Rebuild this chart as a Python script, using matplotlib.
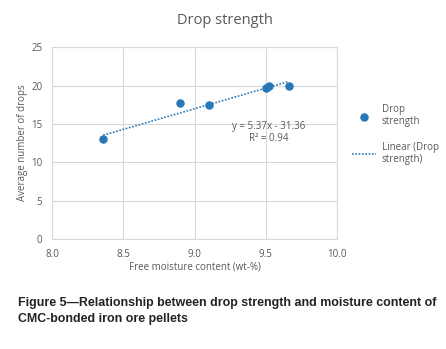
import numpy as np
import matplotlib
matplotlib.use("Agg")
import matplotlib.pyplot as plt

# data
moisture = [8.36, 8.90, 9.10, 9.50, 9.52, 9.66]
drops = [13.0, 17.7, 17.5, 19.7, 19.95, 20.0]
slope, intercept = 5.37, -31.36
r2 = 0.94
x_ticks = [8.0, 8.5, 9.0, 9.5, 10.0]
y_ticks = [0, 5, 10, 15, 20, 25]

blue = "#2878b8"
grey = "#595959"
grid_c = "#d9d9d9"
chart_font = ["Open Sans", "DejaVu Sans"]

fig = plt.figure(figsize=(4.46, 3.49), dpi=100)
ax = fig.add_axes([0.1166, 0.315, 0.639, 0.55])

ax.scatter(moisture, drops, s=26, color=blue, zorder=3, label="Drop\nstrength")
fit_x = np.array([min(moisture), max(moisture)])
ax.plot(fit_x, slope * fit_x + intercept, color=blue, ls=(0, (1, 1)), lw=1.2,
        zorder=2, label="Linear (Drop\nstrength)")

ax.set_xlim(8.0, 10.0)
ax.set_ylim(0, 25)
ax.set_xticks(x_ticks)
ax.set_xticklabels([f"{v:.1f}" for v in x_ticks])
ax.set_yticks(y_ticks)
ax.grid(True, color=grid_c, lw=0.8)
ax.set_axisbelow(True)
for s in ax.spines.values():
    s.set_color(grid_c)
    s.set_linewidth(0.8)
ax.tick_params(length=0, labelsize=7, colors=grey)
ax.tick_params(axis="x", pad=7.5)
ax.tick_params(axis="y", pad=7)
for lab in ax.get_xticklabels() + ax.get_yticklabels():
    lab.set_family(chart_font)

ax.set_xlabel("Free moisture content (wt-%)", fontsize=7, color=grey,
              family=chart_font, labelpad=1)
ax.set_ylabel("Average number of drops", fontsize=7, color=grey,
              family=chart_font, labelpad=2)
fig.text(0.505, 0.94, "Drop strength", ha="center", va="center",
         fontsize=10.5, color=grey, family=chart_font)

ax.text(9.52, 13.87, f"y = {slope}x - {abs(intercept)}\nR\u00b2 = {r2}",
        ha="center", va="center", fontsize=7, color=grey, family=chart_font,
        linespacing=1.15)

leg = ax.legend(loc="center left", bbox_to_anchor=(1.02, 0.545), frameon=False,
                prop={"family": chart_font, "size": 7}, labelcolor=grey,
                handlelength=2.4, handletextpad=0.6, labelspacing=1.5,
                borderaxespad=0.6)

fig.text(0.04, 0.109, "Figure 5\u2014Relationship between drop strength and moisture content of\nCMC-bonded iron ore pellets",
         ha="left", va="center", fontsize=8.9, fontweight="bold",
         family=["Liberation Sans", "DejaVu Sans"], color="#222222", linespacing=1.5)

fig.savefig("out.png", dpi=100)
